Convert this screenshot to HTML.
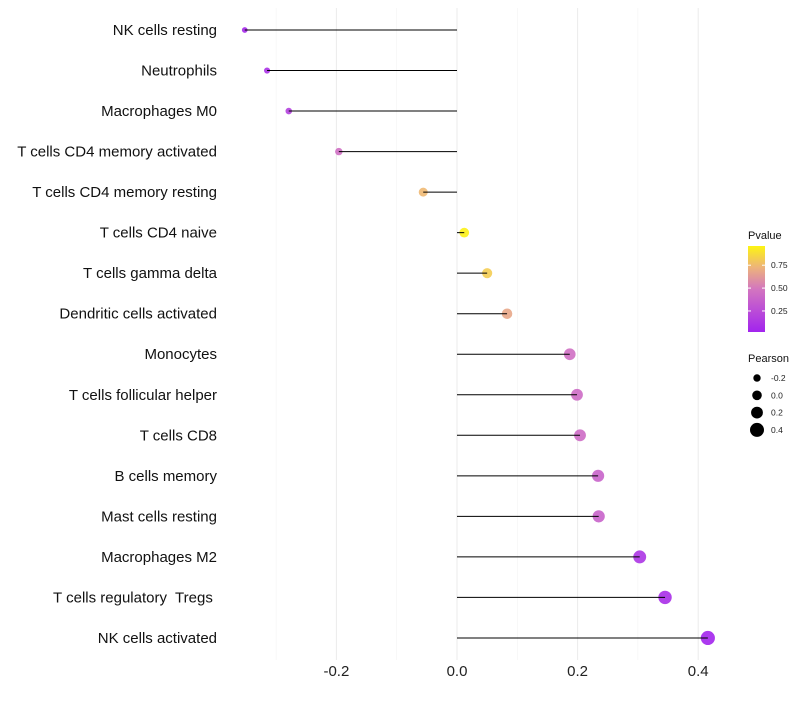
<!DOCTYPE html>
<html><head><meta charset="utf-8"><style>body{margin:0;background:#fff}svg{font-family:"Liberation Sans",sans-serif}</style></head>
<body>
<svg id="c" width="800" height="700"></svg>
<script>
const categories=["NK cells resting","Neutrophils","Macrophages M0","T cells CD4 memory activated","T cells CD4 memory resting","T cells CD4 naive","T cells gamma delta","Dendritic cells activated","Monocytes","T cells follicular helper","T cells CD8","B cells memory","Mast cells resting","Macrophages M2","T cells regulatory  Tregs ","NK cells activated"];
const pearson=[-0.352,-0.315,-0.279,-0.196,-0.056,0.012,0.050,0.083,0.187,0.199,0.204,0.234,0.235,0.303,0.345,0.416];
const pvalue=[0.05,0.10,0.18,0.45,0.75,0.95,0.82,0.68,0.45,0.43,0.43,0.38,0.38,0.12,0.08,0.03];
const xTicks=[-0.2,0,0.2,0.4];
const xTickLabels=["-0.2","0.0","0.2","0.4"];
const xMinor=[-0.3,-0.1,0.1,0.3];
const pTicks=[0.25,0.5,0.75];
const sizeTicks=[-0.2,0,0.2,0.4];
const NS="http://www.w3.org/2000/svg",svg=document.getElementById('c');
function el(t,a,p){const e=document.createElementNS(NS,t);for(const k in a)e.setAttribute(k,a[k]);(p||svg).appendChild(e);return e;}
const x=v=>457+v*603;
const y=i=>30+i*40.53;
const r=v=>4.8+5.5*v;
const stops=[[0,[160,32,240]],[0.5,[212,120,190]],[0.75,[240,185,115]],[1,[255,255,0]]];
function col(p){for(let i=1;i<stops.length;i++){if(p<=stops[i][0]){const a=stops[i-1],b=stops[i],t=(p-a[0])/(b[0]-a[0]);return 'rgb('+a[1].map((c,j)=>Math.round(c+(b[1][j]-c)*t)).join(',')+')';}}return 'rgb(255,255,0)';}
const grid=el('g',{});
xMinor.forEach(v=>el('line',{x1:x(v),x2:x(v),y1:8,y2:660,stroke:'#f4f4f4','stroke-width':0.6},grid));
xTicks.forEach(v=>el('line',{x1:x(v),x2:x(v),y1:8,y2:660,stroke:'#ebebeb','stroke-width':1},grid));
xTicks.forEach((v,i)=>{const t=el('text',{x:x(v),y:676,'text-anchor':'middle','font-size':15,fill:'#222'});t.textContent=xTickLabels[i];});
categories.forEach((c,i)=>{
const t=el('text',{x:217,y:y(i)+5,'text-anchor':'end','font-size':15,fill:'#111','xml:space':'preserve'});t.textContent=c;t.style.whiteSpace='pre';


const d=el('circle',{cx:x(pearson[i]),cy:y(i),r:r(pearson[i]),fill:col(pvalue[i]),'fill-opacity':0.9});


const l=el('line',{x1:x(0),x2:x(pearson[i]),y1:y(i),y2:y(i),stroke:'#000','stroke-width':1});


});
const defs=el('defs',{});const g=el('linearGradient',{id:'pg',x1:0,y1:1,x2:0,y2:0},defs);
[0,0.25,0.5,0.75,1].forEach(o=>el('stop',{offset:o,'stop-color':col(0.02+o*0.94)},g));
let t=el('text',{x:748,y:239,'font-size':11,fill:'#111'});t.textContent='Pvalue';
const bar=el('rect',{x:748,y:246,width:17,height:86,fill:'url(#pg)'});
const py=p=>246+86*(1-(p-0.02)/0.94);
pTicks.forEach(p=>{el('line',{x1:748,x2:751,y1:py(p),y2:py(p),stroke:'#fff'});el('line',{x1:762,x2:765,y1:py(p),y2:py(p),stroke:'#fff'});const tt=el('text',{x:771,y:py(p)+3,'font-size':8.5,fill:'#222'});tt.textContent=p.toFixed(2);});
t=el('text',{x:748,y:362,'font-size':11,fill:'#111'});t.textContent='Pearson';
sizeTicks.forEach((v,i)=>{const cy=378+i*17.3;el('circle',{cx:757,cy:cy,r:r(v),fill:'#000'});const tt=el('text',{x:771,y:cy+3,'font-size':8.5,fill:'#222'});tt.textContent=v.toFixed(1);});
</script>
</body></html>
